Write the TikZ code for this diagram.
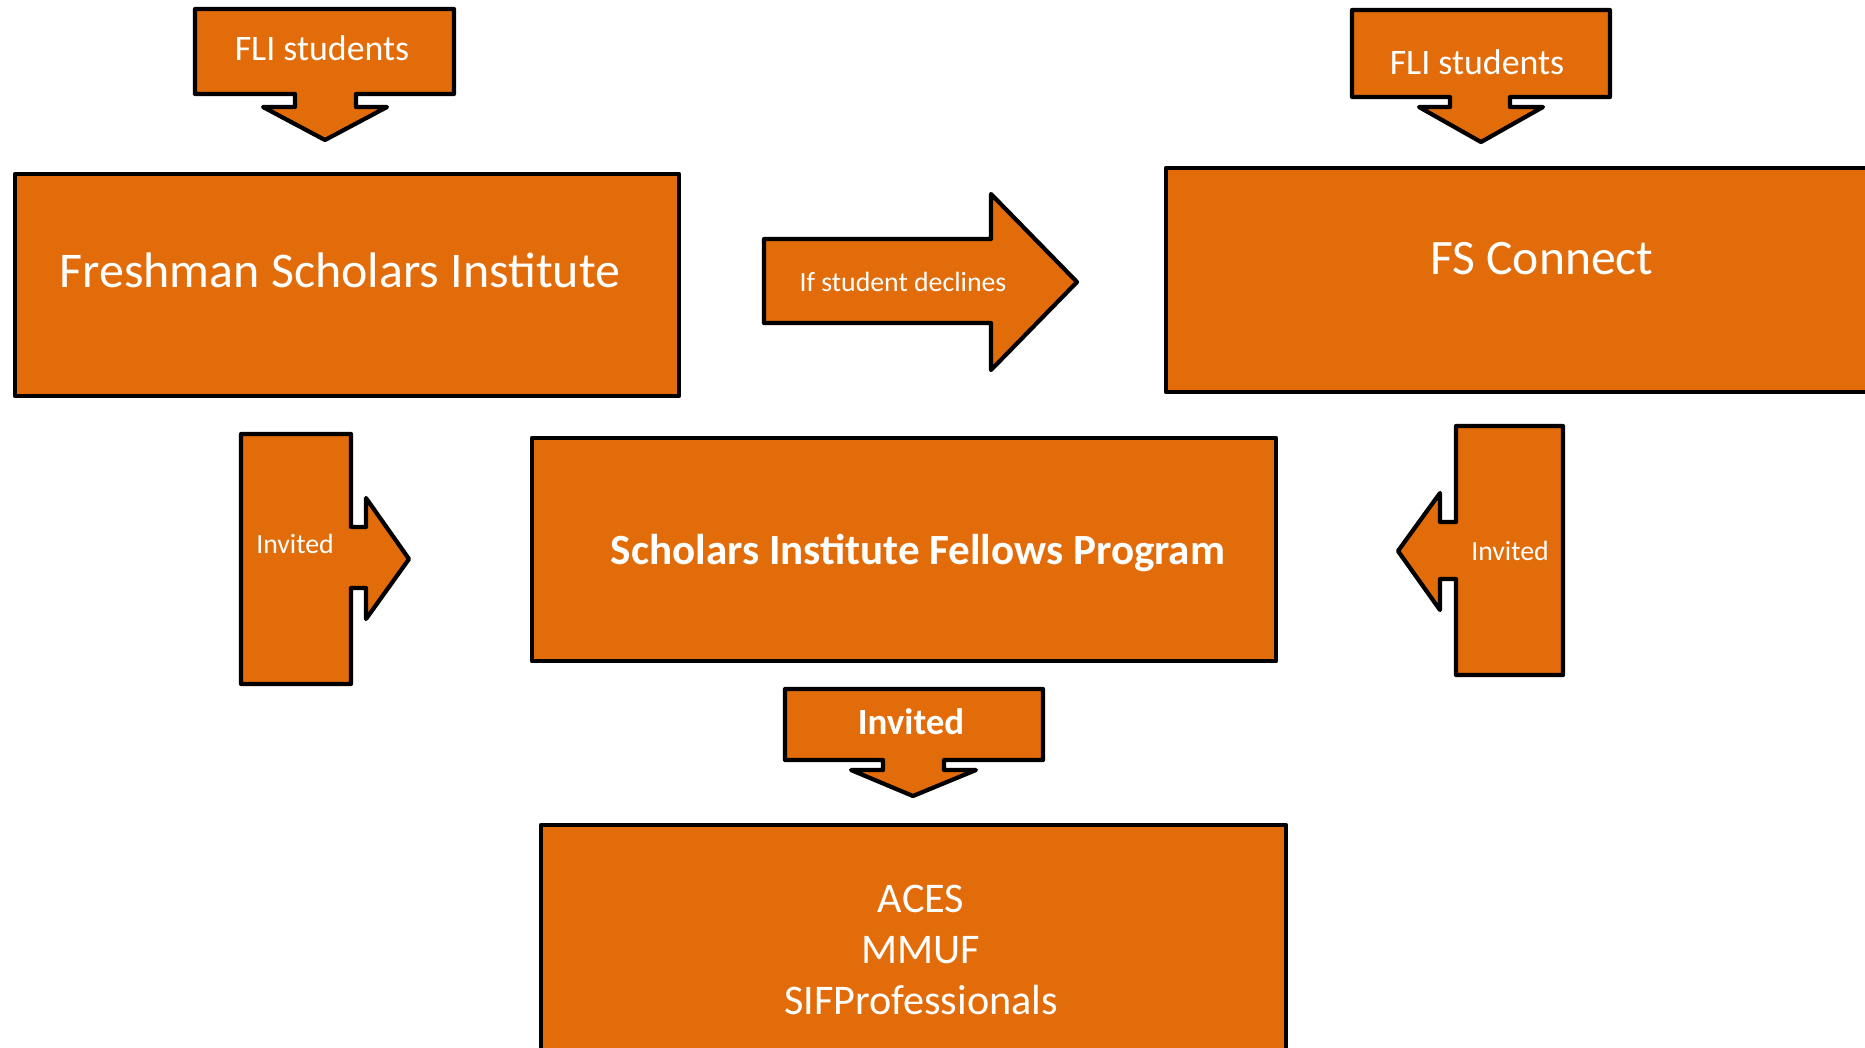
\documentclass[tikz,border=0pt]{standalone}
\usepackage{fontspec}
\setmainfont{Carlito}
\usepackage{xcolor}
\definecolor{fsorange}{RGB}{227,108,10}

\begin{document}
\begin{tikzpicture}[x=0.01cm,y=-0.01cm,line join=round,
  panel/.style={draw=black,line width=1.2pt,fill=fsorange},
  lbl/.style={text=white,inner sep=0pt,align=center}]
\useasboundingbox (0,0) rectangle (1865,1047);
% program boxes
\draw[panel] (15,174) rectangle (679,396);
\draw[panel] (1166,168) rectangle (1890,392);
\draw[panel] (532,438) rectangle (1276,661);
\draw[panel] (541,825) rectangle (1286,1070);
% down callouts
\draw[panel] (195,9) -- (454,9) -- (454,94) -- (356,94) -- (356,107) -- (387,107)
  -- (325,140) -- (263,107) -- (295,107) -- (295,94) -- (195,94) -- cycle;
\draw[panel] (1352,10) -- (1610,10) -- (1610,97) -- (1510,97) -- (1510,107) -- (1543,107)
  -- (1481,142) -- (1419,107) -- (1450,107) -- (1450,97) -- (1352,97) -- cycle;
\draw[panel] (785,689) -- (1043,689) -- (1043,760) -- (944,760) -- (944,770) -- (976,770)
  -- (913,796) -- (851,770) -- (883,770) -- (883,760) -- (785,760) -- cycle;
% side callouts
\draw[panel] (241,434) -- (351,434) -- (351,527) -- (366,527) -- (366,498) -- (409,559)
  -- (366,619) -- (366,588) -- (351,588) -- (351,684) -- (241,684) -- cycle;
\draw[panel] (1563,426) -- (1456,426) -- (1456,522) -- (1440,522) -- (1440,493) -- (1398,551)
  -- (1440,610) -- (1440,579) -- (1456,579) -- (1456,675) -- (1563,675) -- cycle;
% block arrow
\draw[panel] (764,239) -- (991,239) -- (991,194) -- (1077,282) -- (991,370) -- (991,323)
  -- (764,323) -- cycle;
% labels
\node[lbl,font=\fontsize{10.2}{12}\selectfont] (fliA) at (322,48) {FLI students};
\node[lbl,font=\fontsize{10.2}{12}\selectfont] (fliB) at (1477,62) {FLI students};
\node[lbl,font=\fontsize{14.2}{17}\selectfont] (fsi) at (340,270) {Freshman Scholars Institute};
\node[lbl,font=\fontsize{7.9}{9}\selectfont] (declines) at (903,282) {If student declines};
\node[lbl,font=\fontsize{14.1}{17}\selectfont] (fsc) at (1542,259) {FS Connect};
\node[lbl,font=\bfseries\fontsize{12.25}{14}\selectfont] (sifp) at (918,553) {Scholars Institute Fellows Program};
\node[lbl,font=\fontsize{7.9}{9}\selectfont] (invA) at (295,544) {Invited};
\node[lbl,font=\fontsize{7.9}{9}\selectfont] (invB) at (1510,551) {Invited};
\node[lbl,font=\bfseries\fontsize{10.5}{12}\selectfont] (invC) at (911,722) {Invited};
\node[lbl,font=\fontsize{12}{14.5}\selectfont] (progs) at (921,950) {ACES\\MMUF\\SIFProfessionals};
\end{tikzpicture}
\end{document}
